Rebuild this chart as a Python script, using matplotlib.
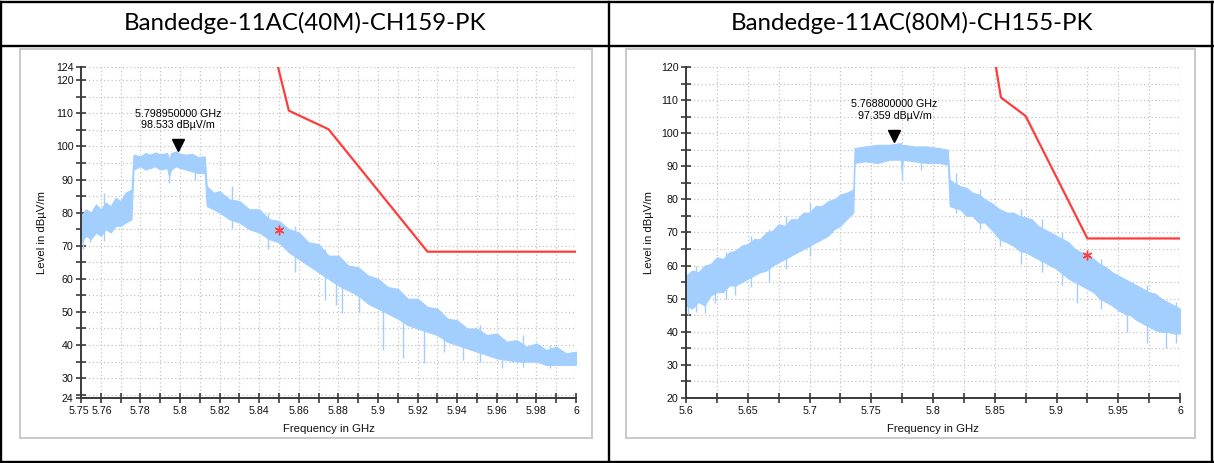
import matplotlib
matplotlib.use("Agg")
import matplotlib.pyplot as plt
import matplotlib.transforms as mtransforms
from matplotlib.lines import Line2D
from matplotlib.patches import Rectangle
from matplotlib.ticker import FixedLocator, FixedFormatter

plt.rcParams['font.family'] = ['Liberation Sans', 'DejaVu Sans']

W, H = 1214, 463

titles = ["Bandedge-11AC(40M)-CH159-PK", "Bandedge-11AC(80M)-CH155-PK"]

# ---------------- data: left panel (40M, CH159) ----------------
l_freq = [5.750, 5.7525, 5.755, 5.7575, 5.760, 5.7625, 5.765, 5.7675, 5.770, 5.7725, 5.7755,
          5.7765, 5.780, 5.7825, 5.785, 5.7875, 5.790, 5.7935, 5.7945, 5.7955, 5.798, 5.800,
          5.803, 5.806, 5.809, 5.8125, 5.8135, 5.817, 5.820, 5.825, 5.830, 5.835, 5.840,
          5.845, 5.850, 5.855, 5.860, 5.865, 5.870, 5.875, 5.880, 5.885, 5.890, 5.895,
          5.900, 5.905, 5.910, 5.915, 5.920, 5.925, 5.930, 5.935, 5.940, 5.945, 5.950,
          5.955, 5.960, 5.965, 5.970, 5.975, 5.980, 5.985, 5.990, 5.995, 6.000]
l_lo = [71, 73, 72, 74, 73, 75, 74, 76, 76, 77, 78,
        93, 94, 93, 93.5, 94, 93, 93.5, 91, 93, 94, 93.5,
        93, 92.5, 92, 92, 82, 81, 80, 78, 77, 75, 74,
        72, 71, 68, 66, 64, 62, 60, 58, 56.5, 55, 52.5,
        51, 49.5, 48, 46, 45, 44, 43, 41, 40, 39, 38,
        37, 36, 35.5, 35, 35, 35, 34, 34, 34, 34]
l_hi = [79, 81, 80, 82.5, 81, 83, 82, 84.5, 83.5, 86, 87,
        97.5, 97, 98, 97.5, 98.2, 97.6, 98, 96, 98, 98.5, 97.8,
        97.5, 97.8, 96.8, 97, 88, 86, 86.5, 84, 83.5, 81, 81,
        78, 77.5, 75, 74, 71, 70.5, 67, 67, 64, 63.5, 61,
        60, 57.5, 57, 54, 54, 51.5, 51, 48, 47.5, 45, 45,
        43, 43.5, 41, 41.5, 39.5, 40.5, 38.5, 39.5, 37.5, 38]
l_spike_f = [5.751, 5.7545, 5.7615, 5.7945, 5.8075, 5.8265, 5.8445, 5.858, 5.8732, 5.879,
             5.882, 5.8905, 5.9025, 5.9126, 5.923, 5.9335, 5.943, 5.9515, 5.9626, 5.973, 5.987]
l_spike_lo = [69, 71, 71.5, 89, 90, 75.5, 69, 62, 53.6, 52, 49.7, 50, 38.5, 36, 34.6, 38,
              35.5, 35, 33, 33.5, 33]
l_spike_hi = [76, 78, 86, 93, 95, 88, 80, 76, 69, 62, 65, 61, 52, 49, 52, 48, 46, 46, 40, 43, 40]

l_limit_f = [5.8495, 5.855, 5.875, 5.925, 6.0]
l_limit_v = [124.0, 110.8, 105.2, 68.2, 68.2]
l_peak = (5.79895, 98.533)
l_peak_text = "5.798950000 GHz\n98.533 dBµV/m"
l_edge = (5.850, 74.9)

l_xticks = [round(5.75 + 0.01 * i, 2) for i in range(26)]
l_xlabels = {5.75: "5.75", 5.76: "5.76", 5.78: "5.78", 5.8: "5.8", 5.82: "5.82", 5.84: "5.84",
             5.86: "5.86", 5.88: "5.88", 5.9: "5.9", 5.92: "5.92", 5.94: "5.94", 5.96: "5.96",
             5.98: "5.98", 6.0: "6"}
l_yticks = [24, 30, 40, 50, 60, 70, 80, 90, 100, 110, 120, 124]
l_yminor = [25, 35, 45, 55, 65, 75, 85, 95, 105, 115]

# ---------------- data: right panel (80M, CH155) ----------------
r_freq = [5.600, 5.605, 5.610, 5.615, 5.620, 5.625, 5.630, 5.635, 5.640, 5.645, 5.650,
          5.655, 5.660, 5.665, 5.670, 5.675, 5.680, 5.685, 5.690, 5.695, 5.700, 5.705,
          5.710, 5.715, 5.720, 5.725, 5.730, 5.7355, 5.7365, 5.745, 5.755, 5.765, 5.7740,
          5.7747, 5.7755, 5.785, 5.795, 5.805, 5.812, 5.8135, 5.817, 5.822, 5.827, 5.832,
          5.837, 5.842, 5.847, 5.854, 5.860, 5.865, 5.870, 5.875, 5.880, 5.885, 5.890,
          5.895, 5.900, 5.905, 5.910, 5.915, 5.920, 5.925, 5.930, 5.935, 5.940, 5.945,
          5.950, 5.955, 5.960, 5.965, 5.970, 5.975, 5.980, 5.985, 5.990, 5.995, 6.000]
r_lo = [48, 47, 49, 48, 51, 52, 52, 54, 54, 55, 56,
        57, 58, 58.5, 60, 61, 62, 63, 64, 65, 66, 67,
        68, 69, 71, 72, 74, 76, 91, 91.5, 91, 92, 92,
        88, 92, 91.5, 91, 91, 90.5, 78, 77.5, 77, 75, 75,
        73, 73, 71, 68, 67, 66, 64.5, 64, 63, 62, 61,
        60, 59, 57.5, 56, 55, 54, 53, 52, 50, 49, 48,
        46.5, 45.5, 45, 43.5, 42.5, 41.5, 40.5, 40, 40, 39.5, 39.5]
r_hi = [57, 58.5, 58, 60, 60.5, 62.5, 62, 64, 64.5, 66, 66.5,
        68, 68, 70, 70.5, 72.5, 72, 74, 74, 76, 76, 78,
        78, 79.5, 80, 81.5, 82, 83, 95.5, 96, 96.5, 96.5, 97,
        96, 96.5, 96, 96, 95.5, 95, 86, 85, 84, 83.5, 82,
        81.5, 80, 79, 77, 76, 76, 75, 74.5, 74, 72, 71,
        70, 69, 68, 67, 65, 64, 63.5, 62, 60.5, 59.5, 58,
        57, 56, 55, 54, 53, 52, 51.5, 50, 49, 48, 47]
r_spike_f = [5.6015, 5.608, 5.615, 5.6235, 5.632, 5.640, 5.6525, 5.667, 5.681, 5.700, 5.7747,
             5.7905, 5.8185, 5.838, 5.854, 5.871, 5.8885, 5.9045, 5.9164, 5.936, 5.9568,
             5.973, 5.989, 5.997]
r_spike_lo = [45, 46, 45.7, 48.7, 50, 51, 53.5, 55, 59, 63, 86, 89, 76, 71, 66, 60.5, 58,
              54, 48.7, 47, 40, 36.6, 35, 36.6]
r_spike_hi = [52, 60, 52, 54, 64, 56, 69, 71, 75, 79, 92, 94, 88, 83, 72, 77, 74, 70, 56,
              62, 47, 54, 42, 49]

r_limit_f = [5.850, 5.855, 5.875, 5.925, 6.0]
r_limit_v = [122.2, 110.8, 105.2, 68.2, 68.2]
r_peak = (5.7688, 97.359)
r_peak_text = "5.768800000 GHz\n97.359 dBµV/m"
r_edge = (5.925, 63.2)

r_xticks = [round(5.6 + 0.025 * i, 3) for i in range(17)]
r_xlabels = {5.6: "5.6", 5.65: "5.65", 5.7: "5.7", 5.75: "5.75", 5.8: "5.8", 5.85: "5.85",
             5.9: "5.9", 5.95: "5.95", 6.0: "6"}
r_yticks = [20, 30, 40, 50, 60, 70, 80, 90, 100, 110, 120]
r_yminor = [25, 35, 45, 55, 65, 75, 85, 95, 105, 115]

TRACE = "#a2cfff"
RED = "#ff3c3c"
GRID = "#c4c4c4"
AXC = "#3a3a3a"

fig = plt.figure(figsize=(W / 100, H / 100), dpi=100)
fig.patch.set_facecolor("white")


def fx(px):
    return px / W


def fy(py):
    return 1 - py / H


def panel(box, xlim, ylim, xticks, xlabels, yticks, yminor, freq, lo, hi,
          sf, slo, shi, limf, limv, peak, ptext, edge, ylabelpad):
    x0, y0, x1, y1 = box
    ax = fig.add_axes([fx(x0), fy(y1), fx(x1) - fx(x0), fy(y0) - fy(y1)])
    ax.set_xlim(*xlim)
    ax.set_ylim(*ylim)
    gy = list(range(int(ylim[0]) + (5 - int(ylim[0]) % 5) % 5, int(ylim[1]) + 1, 5))
    if ylim[1] not in gy:
        gy.append(ylim[1])
    for v in gy:
        ax.axhline(v, color=GRID, lw=0.9, ls=(0, (1, 2)), zorder=0)
    for f in xticks[1:]:
        ax.axvline(f, color=GRID, lw=0.9, ls=(0, (1, 2)), zorder=0)

    ax.fill_between(freq, lo, hi, color=TRACE, lw=0.8, edgecolor=TRACE, zorder=2)
    ax.vlines(sf, slo, shi, color=TRACE, lw=1.0, zorder=2)
    ax.plot(limf, limv, color=RED, lw=1.6, zorder=3, clip_on=True)
    ax.plot([edge[0]], [edge[1]], marker=(6, 2, 0), color=RED, ms=7, mew=1.0, zorder=4)

    off = mtransforms.offset_copy(ax.transData, fig=fig, x=0, y=4.3, units="points")
    ax.plot([peak[0]], [peak[1]], marker="v", color="black", ms=8.5, transform=off,
            zorder=5, clip_on=False)
    ax.annotate(ptext, xy=peak, xytext=(0, 23), textcoords="offset points",
                ha="center", va="center", fontsize=7.7, linespacing=1.2, zorder=6)

    for s in ("top", "right"):
        ax.spines[s].set_visible(False)
    for s in ("left", "bottom"):
        ax.spines[s].set_color(AXC)
        ax.spines[s].set_linewidth(1.4)
    ax.xaxis.set_major_locator(FixedLocator(xticks))
    ax.xaxis.set_major_formatter(FixedFormatter([xlabels.get(round(t, 3), "") for t in xticks]))
    ax.yaxis.set_major_locator(FixedLocator(yticks))
    ax.yaxis.set_major_formatter(FixedFormatter([str(t) for t in yticks]))
    ax.yaxis.set_minor_locator(FixedLocator(yminor))
    ax.tick_params(axis="both", which="both", direction="inout", length=7, width=1.2,
                   color=AXC, labelsize=7.7, labelcolor="#111111", pad=2)
    ax.set_xlabel("Frequency in GHz", fontsize=8.2, labelpad=6, color="#111111")
    ax.set_ylabel("Level in dBµV/m", fontsize=8.2, labelpad=ylabelpad, color="#111111")
    ax.set_facecolor("none")
    return ax


lw_tab = 1.7
for (xa, ya, xb, yb) in [(1, 1.5, 1212.5, 1.5), (1, 45.5, 1212.5, 45.5), (1, 461.5, 1212.5, 461.5),
                         (1.5, 1.5, 1.5, 461.5), (609, 1.5, 609, 461.5), (1212, 1.5, 1212, 461.5)]:
    fig.add_artist(Line2D([fx(xa), fx(xb)], [fy(ya), fy(yb)], color="black", lw=lw_tab))

for (xa, ya, xb, yb) in [(20, 49, 592, 438), (626, 49, 1195, 438)]:
    fig.add_artist(Rectangle((fx(xa), fy(yb)), fx(xb) - fx(xa), fy(ya) - fy(yb),
                             fill=False, edgecolor="#c9c9c9", lw=1.4))

fig.text(fx(305), fy(23), titles[0], ha="center", va="center", fontsize=17.3,
         family=["Lato", "DejaVu Sans"])
fig.text(fx(912), fy(23), titles[1], ha="center", va="center", fontsize=17.3,
         family=["Lato", "DejaVu Sans"])

axl = panel((81, 67, 576, 398), (5.75, 6.0), (24, 124), l_xticks, l_xlabels, l_yticks, l_yminor,
            l_freq, l_lo, l_hi, l_spike_f, l_spike_lo, l_spike_hi, l_limit_f, l_limit_v,
            l_peak, l_peak_text, l_edge, 6)
panel((686, 67, 1180, 398), (5.6, 6.0), (20, 120), r_xticks, r_xlabels, r_yticks, r_yminor,
      r_freq, r_lo, r_hi, r_spike_f, r_spike_lo, r_spike_hi, r_limit_f, r_limit_v,
      r_peak, r_peak_text, r_edge, 5)

fig.canvas.draw()
labs = axl.get_xticklabels()
shift = mtransforms.ScaledTranslation(-1.5 / 72, 0, fig.dpi_scale_trans)
labs[0].set_transform(labs[0].get_transform() + shift)
shift2 = mtransforms.ScaledTranslation(1.0 / 72, 0, fig.dpi_scale_trans)
labs[1].set_transform(labs[1].get_transform() + shift2)

fig.savefig("out.png", dpi=100, facecolor="white")
